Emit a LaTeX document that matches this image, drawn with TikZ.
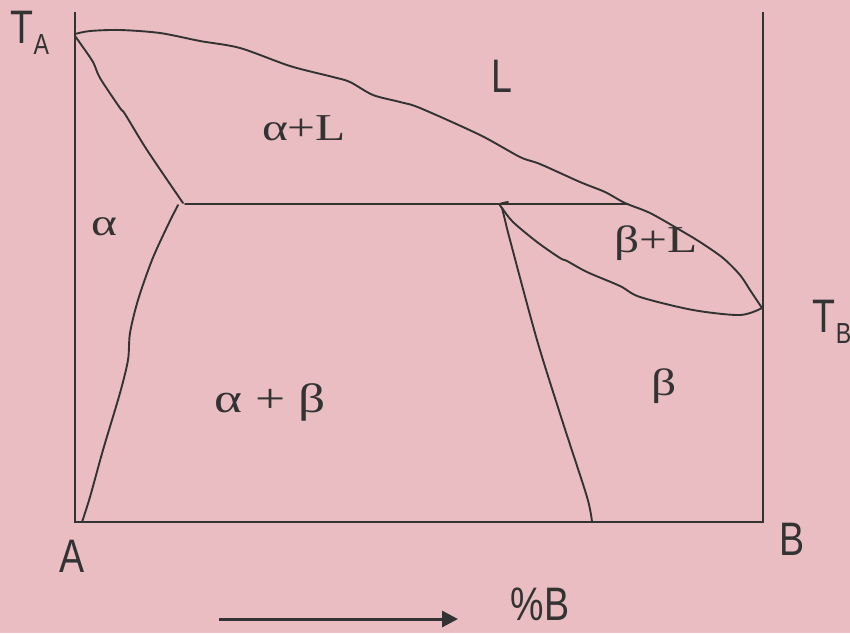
\documentclass[tikz,border=0pt]{standalone}
\usepackage{fontspec}
\usepackage{xcolor}
\usetikzlibrary{arrows.meta}

\newfontfamily\axisfont[FakeStretch=0.8]{Liberation Sans}
\newfontfamily\phasefont[FakeStretch=1.3]{Liberation Serif}
\newcommand{\lowsub}[1]{\raisebox{-11pt}{\fontsize{29}{29}\selectfont #1}}

\definecolor{bgpink}{RGB}{233,189,193}
\definecolor{inkgray}{RGB}{51,51,51}

\tikzset{
  axis/.style={line width=2.2pt, draw=inkgray},
  phaseline/.style={line width=1.9pt, draw=inkgray, line join=round, line cap=round},
  axislabel/.style={text=inkgray, inner sep=0pt, anchor=base,
    font=\axisfont\fontsize{47}{47}\selectfont},
  phaselabel/.style={text=inkgray, inner sep=0pt, anchor=base,
    font=\phasefont\fontsize{38}{38}\selectfont}
}

\begin{document}
\begin{tikzpicture}[x=1pt, y=-1pt]
        % Background and frame of the picture
        \path[fill=bgpink, use as bounding box] (0,0) rectangle (850,633);
        \clip (0,0) rectangle (850,633);

        % Define corners of the diagram
        \coordinate (Atop) at (75, 12);   % Top of left axis
        \coordinate (Btop) at (763, 12);  % Top of right axis
        \coordinate (A0) at (75, 522);    % Pure A
        \coordinate (B0) at (763, 522);   % Pure B
        \coordinate (TA) at (75, 34);     % Melting point of A
        \coordinate (TB) at (762, 308);   % Melting point of B

        % Define eutectic points
        \coordinate (E1) at (185, 204);   % End of alpha
        \coordinate (E2) at (628, 204);   % Liquid
        \coordinate (Es) at (502, 208);   % End of beta

        % Define arrow end points
        \coordinate (arrL) at (219, 619);
        \coordinate (arrR) at (458, 619);

        % Draw axes
        \draw[axis] (Atop) -- (A0) -- (B0) -- (Btop);

        % Draw eutectic line
        \draw[phaseline] (E1) -- (E2);

        % Draw liquidus
        \draw[phaseline] plot[smooth, tension=0.5] coordinates {
          (75,34) (90,31) (120,30) (160,33) (200,41) (240,48) (290,66)
          (333,77) (350,82) (373,95) (400,102) (420,108) (480,135)
          (520,157) (540,164) (580,182) (605,192) (625,203) (650,213)
          (680,230) (700,242) (723,258) (740,275) (750,290) (762,308)};

        % Draw alpha solidus and solvus
        \draw[phaseline] plot[smooth, tension=0.5] coordinates {
          (75,36) (80,43) (93,62) (100,78) (120,108) (125,114)
          (147,150) (183,203)};
        \draw[phaseline] plot[smooth, tension=0.5] coordinates {
          (178,205) (167,227) (152,260) (138,300) (130,333) (128,360)
          (120,393) (103,450) (90,497) (82,522)};

        % Draw beta solidus and solvus
        \draw[phaseline] plot[smooth, tension=0.5] coordinates {
          (762,308) (740,315) (693,310) (640,297) (620,286) (587,272)
          (567,261) (560,258) (537,242) (513,222) (502,208) (500,204) (508,202)};
        \draw[phaseline] plot[smooth, tension=0.5] coordinates {
          (502,208) (505,220) (510,240) (537,340) (563,423) (587,497) (592,522)};

        % Draw composition arrow
        \draw[axis, line width=3pt, -{Triangle[length=16pt, width=16pt]}] (arrL) -- (arrR);

        % Label axes
        \node[axislabel] (labTA) at (30, 43) {T\lowsub{A}};
        \node[axislabel] (labTB) at (832, 332) {T\lowsub{B}};
        \node[axislabel] (labA) at (72, 572) {A};
        \node[axislabel] (labB) at (792, 555) {B};
        \node[axislabel, text depth=0pt] (labPct) at (540, 620) {\%B};
        \node[axislabel] (labL) at (502, 92) {L};

        % Label phase fields
        \node[phaselabel] (labAL) at (304, 140) {α+L};
        \node[phaselabel] (labBL) at (656, 252) {β+L};
        \node[phaselabel] (labAlpha) at (104, 235) {α};
        \node[phaselabel, font=\phasefont\fontsize{41}{41}\selectfont] (labAB) at (270, 412) {α + β};
        \node[phaselabel] (labBeta) at (664, 395) {β};
    \end{tikzpicture}
\end{document}
